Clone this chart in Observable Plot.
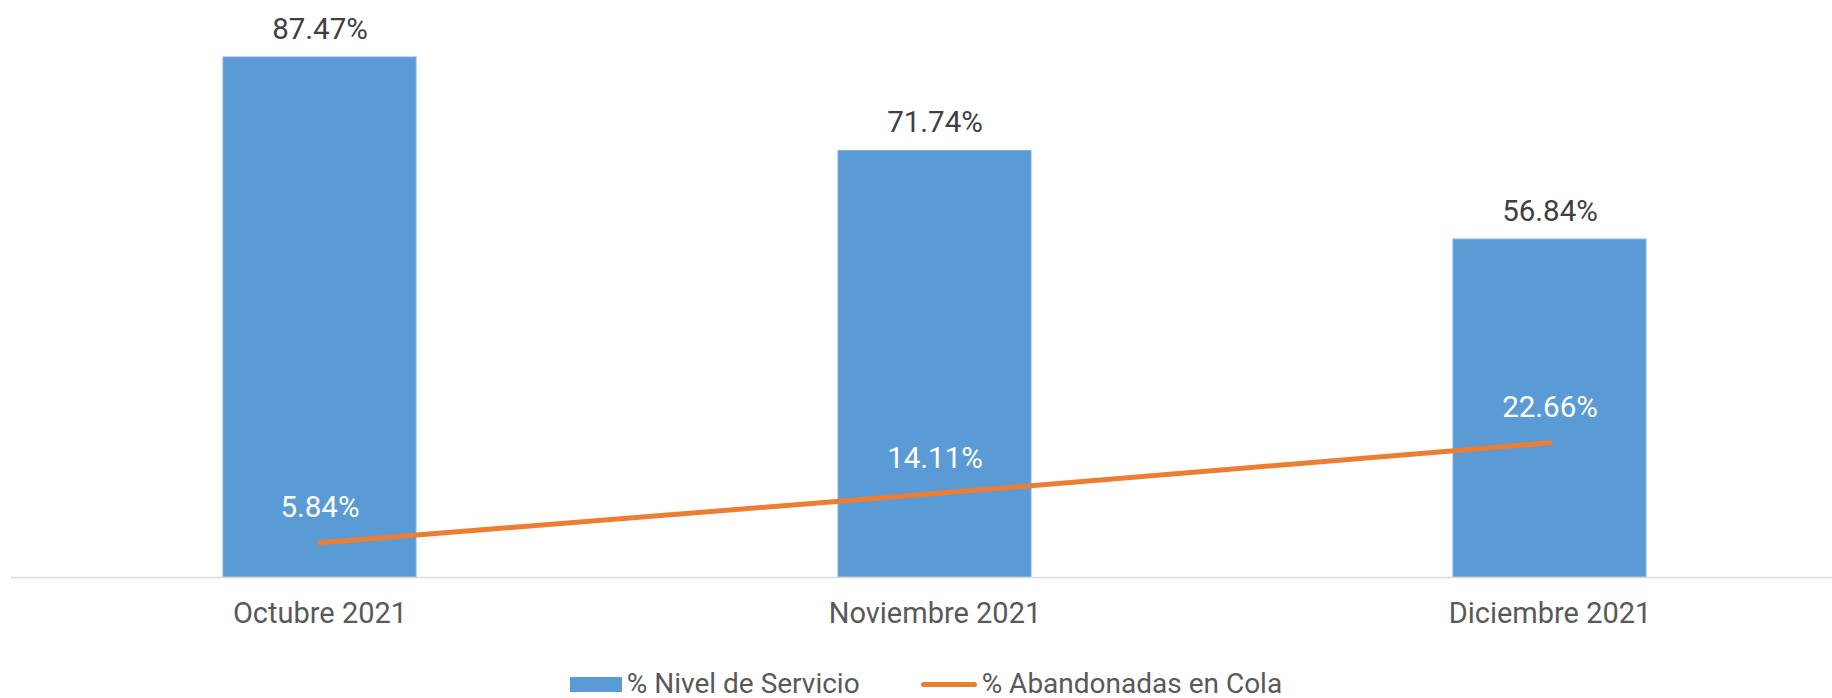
<!DOCTYPE html>
<html>
<head>
<meta charset="utf-8">
<script src="https://cdn.jsdelivr.net/npm/d3@7"></script>
<script src="https://cdn.jsdelivr.net/npm/@observablehq/plot@0.6"></script>
<style>
  html, body { margin: 0; padding: 0; background: #fff; }
  body { width: 1832px; height: 698px; position: relative; overflow: hidden; font-family: Roboto, sans-serif; }
  #legend { position: absolute; left: 0; top: 670px; width: 1832px; height: 28px; display: flex; justify-content: center; align-items: center; padding-left: 20px; box-sizing: border-box; font-size: 28px; line-height: 28px; color: #595959; }
  .item { display: flex; align-items: center; }
  .sw-bar { width: 52px; height: 15px; background: #5B9BD5; margin-right: 5px; }
  .sw-line { width: 56px; height: 5px; border-radius: 3px; background: #ED7D31; margin-right: 5px; }
</style>
</head>
<body>
<div id="chart"></div>
<div id="legend">
  <div class="item"><div class="sw-bar"></div><span>% Nivel de Servicio</span></div>
  <div class="item" style="margin-left:61px"><div class="sw-line"></div><span>% Abandonadas en Cola</span></div>
</div>
<script>
const months = ["Octubre 2021", "Noviembre 2021", "Diciembre 2021"];
const nivelServicio = [87.47, 71.74, 56.84];
const abandonadas = [5.84, 14.11, 22.66];

const data = months.map((m, i) => ({month: m, nivel: nivelServicio[i], aband: abandonadas[i]}));
const fmt = v => v.toFixed(2) + "%";

const chart = Plot.plot({
  width: 1832,
  height: 650,
  marginLeft: 11,
  marginRight: 0,
  marginTop: 0,
  marginBottom: 73,
  style: {fontFamily: "Roboto, sans-serif", background: "#fff"},
  x: {domain: months, range: [11, 1857], paddingInner: 0.6864, paddingOuter: 0.3432, label: null},
  y: {domain: [0, 100], range: [577, -17.5], axis: null},
  marks: [
    Plot.barY(data, {x: "month", y: "nivel", fill: "#5B9BD5", stroke: "#7fb0de", strokeWidth: 1}),
    Plot.ruleY([0], {stroke: "#d9d9d9", strokeWidth: 1.5}),
    Plot.line(data, {x: "month", y: "aband", stroke: "#ED7D31", strokeWidth: 5, strokeLinecap: "round"}),
    Plot.text(data, {x: "month", y: "nivel", text: d => fmt(d.nivel), dy: -28, fill: "#404040", fontSize: 29.5, lineAnchor: "middle"}),
    Plot.text(data, {x: "month", y: "aband", text: d => fmt(d.aband), dy: -35, fill: "#ffffff", fontSize: 29.5, lineAnchor: "middle"}),
    Plot.axisX({tickSize: 0, tickPadding: 25, fontSize: 29, color: "#595959", label: null})
  ]
});
document.getElementById("chart").appendChild(chart);
</script>
</body>
</html>
